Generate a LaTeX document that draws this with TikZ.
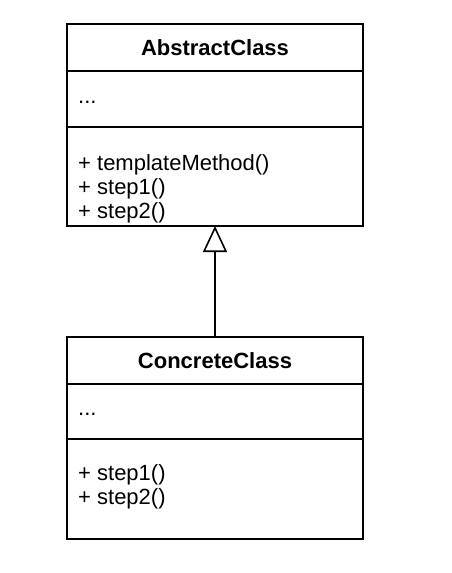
\documentclass[tikz,border=0pt]{standalone}
\usepackage{fontspec}
\setmainfont{Liberation Sans}
\usetikzlibrary{positioning}
\usetikzlibrary{arrows.meta}

\begin{document}
\begin{tikzpicture}[x=1pt,y=-1pt,node distance=0pt,
    classname/.style={
      % The box:
      rectangle,minimum width=296pt,minimum height=47pt,outer sep=0pt,
      % Border
      line width=1.6pt,draw=black,
      font=\fontsize{22}{24}\selectfont\bfseries
      },
    classpart/.style={
      rectangle,minimum width=296pt,outer sep=0pt,
      line width=1.6pt,draw=black
      },
    members/.style={inner sep=0pt,align=left,font=\fontsize{22}{24}\selectfont}]
  \useasboundingbox (0,0) rectangle (452,573);
  % AbstractClass
  \node (abstract) [classname,anchor=north] at (215,24) {AbstractClass};
  \node (abstract-attr) [classpart,minimum height=56pt,below=of abstract] {};
  \node (abstract-ops) [classpart,minimum height=99pt,below=of abstract-attr] {};
  \node (abstract-attr-text) [members,anchor=base west] at ([shift={(11,32)}]abstract-attr.north west) {...};
  \node (abstract-ops-text) [members,anchor=base west] at ([shift={(11,91)}]abstract-ops.north west)
    {+ templateMethod()\\+ step1()\\+ step2()};
  % ConcreteClass
  \node (concrete) [classname,anchor=north] at (215,337) {ConcreteClass};
  \node (concrete-attr) [classpart,minimum height=55pt,below=of concrete] {};
  \node (concrete-ops) [classpart,minimum height=100pt,below=of concrete-attr] {};
  \node (concrete-attr-text) [members,anchor=base west] at ([shift={(11,31)}]concrete-attr.north west) {...};
  \node (concrete-ops-text) [members,anchor=base west] at ([shift={(11,65)}]concrete-ops.north west)
    {+ step1()\\+ step2()};
  \draw [-{Triangle[open,length=26pt,width=24pt]},line width=1.6pt] (concrete) to (abstract-ops);
\end{tikzpicture}
\end{document}
